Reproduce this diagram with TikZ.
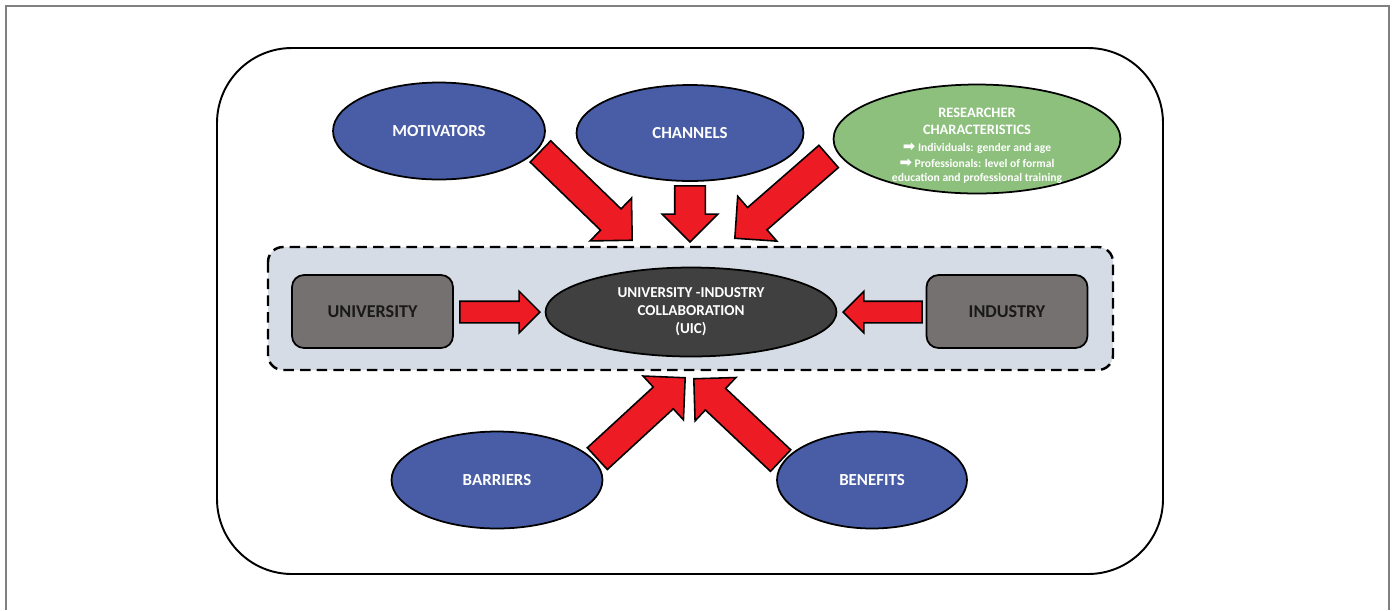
\documentclass[tikz,border=0pt]{standalone}
\usepackage{fontspec}
\setmainfont{Carlito}
\newfontfamily\symfont{DejaVu Sans}
\usetikzlibrary{shapes.geometric,shapes.arrows,calc}

\definecolor{ellblue}{RGB}{72,93,165}
\definecolor{ellgreen}{RGB}{141,192,125}
\definecolor{arrred}{RGB}{237,28,36}
\definecolor{boxgray}{RGB}{118,113,113}
\definecolor{uicgray}{RGB}{64,64,64}
\definecolor{panelblue}{RGB}{214,220,229}

\newcommand\resbig{\fontsize{8.2}{10.2}\selectfont}
\newcommand\ressmall{\fontsize{6.6}{8.3}\selectfont}
\newcommand\resmark{{\symfont\fontsize{8.5}{8.3}\selectfont ➡}}

% block arrow from tail coordinate to head coordinate
\newcommand\fatarrow[3][]{%
  \path let \p1=($(#3)-(#2)$), \n1={veclen(\x1,\y1)}, \n2={atan2(\y1,\x1)} in
    node [fatarrow,#1,minimum height=\n1,rotate=\n2,anchor=tip] at (#3) {};}

\begin{document}
\begin{tikzpicture}[x=0.02cm, y=-0.02cm,
  factor/.style={ellipse, draw=black, line width=1pt, fill=ellblue, text=white,
    font=\fontsize{9.6}{11}\selectfont\bfseries, inner sep=0pt},
  actor/.style={draw=black, line width=1pt, fill=boxgray, rounded corners=0.24cm,
    minimum width=3.22cm, minimum height=1.46cm, text=black!90,
    font=\fontsize{10.3}{12}\selectfont\bfseries},
  fatarrow/.style={single arrow, draw=black, line width=0.9pt, fill=arrred,
    inner xsep=0pt, inner ysep=0.28cm, single arrow head extend=0.3cm},
  smallarrow/.style={inner ysep=0.2cm, single arrow head extend=0.2cm}]
\useasboundingbox (0,0) rectangle (1393,610);
\draw [gray, line width=0.6pt] (6,610) -- (6,6) -- (1389,6) -- (1389,610);
\draw [line width=1.1pt, rounded corners=1.5cm] (217,48) rectangle (1163,574);
\draw [fill=panelblue, line width=1.4pt, dash pattern=on 6pt off 3.5pt,
  rounded corners=0.3cm] (268,247) rectangle (1113,370);

\node [factor, minimum width=4.24cm, minimum height=1.94cm] (mot) at (439,131) {MOTIVATORS};
\node [factor, minimum width=4.54cm, minimum height=1.92cm] (chan) at (690,133) {CHANNELS};
\node [factor, fill=ellgreen, minimum width=5.74cm, minimum height=2.18cm] (res) at (977,139) {};
\node [text=white, font=\ressmall\bfseries, align=center, inner sep=0pt] (restext) at (977,146)
  {\resbig RESEARCHER\\[1.3pt]\resbig CHARACTERISTICS\\[1.3pt]
   \resmark\ Individuals: gender and age\\[0.6pt]
   \resmark\ Professionals: level of formal\\
   education and professional training};
\node [factor, fill=uicgray, minimum width=5.82cm, minimum height=1.78cm, align=center,
  font=\fontsize{8.6}{10.2}\selectfont\bfseries] (uic) at (691,312)
  {UNIVERSITY -INDUSTRY\\COLLABORATION\\(UIC)};
\node [actor] (uni) at (372.5,311.5) {UNIVERSITY};
\node [actor] (ind) at (1007,311.5) {INDUSTRY};
\node [factor, minimum width=4.22cm, minimum height=1.94cm] (bar) at (497,480) {BARRIERS};
\node [factor, minimum width=3.8cm, minimum height=1.94cm] (ben) at (872,480) {BENEFITS};

\coordinate (motT) at (541,152);  \coordinate (motH) at (633,241);
\coordinate (chanT) at (690,187); \coordinate (chanH) at (690,243);
\coordinate (resT) at (828,157);  \coordinate (resH) at (734,239);
\coordinate (uniT) at (461,312);  \coordinate (uniH) at (541,312);
\coordinate (indT) at (921,312);  \coordinate (indH) at (842,312);
\coordinate (barT) at (598,458);  \coordinate (barH) at (686,377);
\coordinate (benT) at (780,460);  \coordinate (benH) at (693,378);

\fatarrow[name=motarrow]{motT}{motH}
\fatarrow[name=chanarrow, inner ysep=0.29cm, single arrow head extend=0.25cm]{chanT}{chanH}
\fatarrow[name=resarrow]{resT}{resH}
\fatarrow[name=uniarrow, smallarrow]{uniT}{uniH}
\fatarrow[name=indarrow, smallarrow]{indT}{indH}
\fatarrow[name=bararrow]{barT}{barH}
\fatarrow[name=benarrow]{benT}{benH}
\end{tikzpicture}
\end{document}
